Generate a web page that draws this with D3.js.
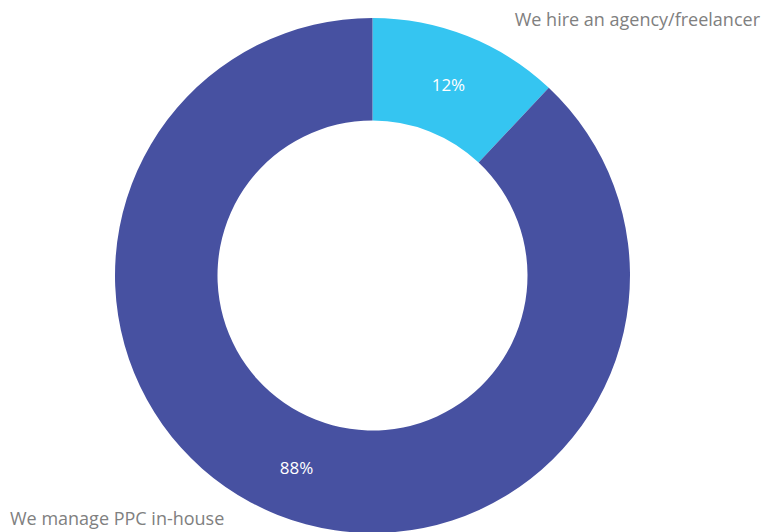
<!DOCTYPE html>
<html>
<head>
<meta charset="utf-8">
<script src="https://cdn.jsdelivr.net/npm/d3@7"></script>
<style>
  body { margin: 0; background: #fff; }
  svg text { font-family: "Open Sans", sans-serif; }
</style>
</head>
<body>
<svg id="chart" width="763" height="532"></svg>
<script>
const categories = ['We hire an agency/freelancer', 'We manage PPC in-house'];
const values = [12, 88];
const colors = ['#35c5f1', '#4751a1'];

const width = 763, height = 532;
const cx = 372.5, cy = 275.5;
const outerR = 257.5, innerR = 155;

const svg = d3.select('#chart');
const g = svg.append('g').attr('transform', `translate(${cx},${cy})`);

const pie = d3.pie().sort(null).value(d => d.value);
const arc = d3.arc().innerRadius(innerR).outerRadius(outerR);
const data = pie(categories.map((c, i) => ({ name: c, value: values[i] })));

g.selectAll('path')
  .data(data)
  .enter()
    .append('path')
    .attr('d', arc)
    .attr('fill', (d, i) => colors[i]);

g.selectAll('.pct')
  .data(data)
  .enter()
    .append('text')
    .attr('class', 'pct')
    .attr('transform', d => {
      let [x, y] = arc.centroid(d);
      return `translate(${x},${y})`;
    })
    .attr('text-anchor', 'middle')
    .attr('dy', '0.4em')
    .attr('fill', '#fff')
    .style('font-size', '17px')
    .text(d => d.value + '%');

// outside labels
svg.append('text')
  .attr('x', 760).attr('y', 26)
  .attr('text-anchor', 'end')
  .attr('fill', '#808080')
  .style('font-size', '18px')
  .text(categories[0]);

svg.append('text')
  .attr('x', 10).attr('y', 525)
  .attr('fill', '#808080')
  .style('font-size', '18px')
  .text(categories[1]);
</script>
</body>
</html>
